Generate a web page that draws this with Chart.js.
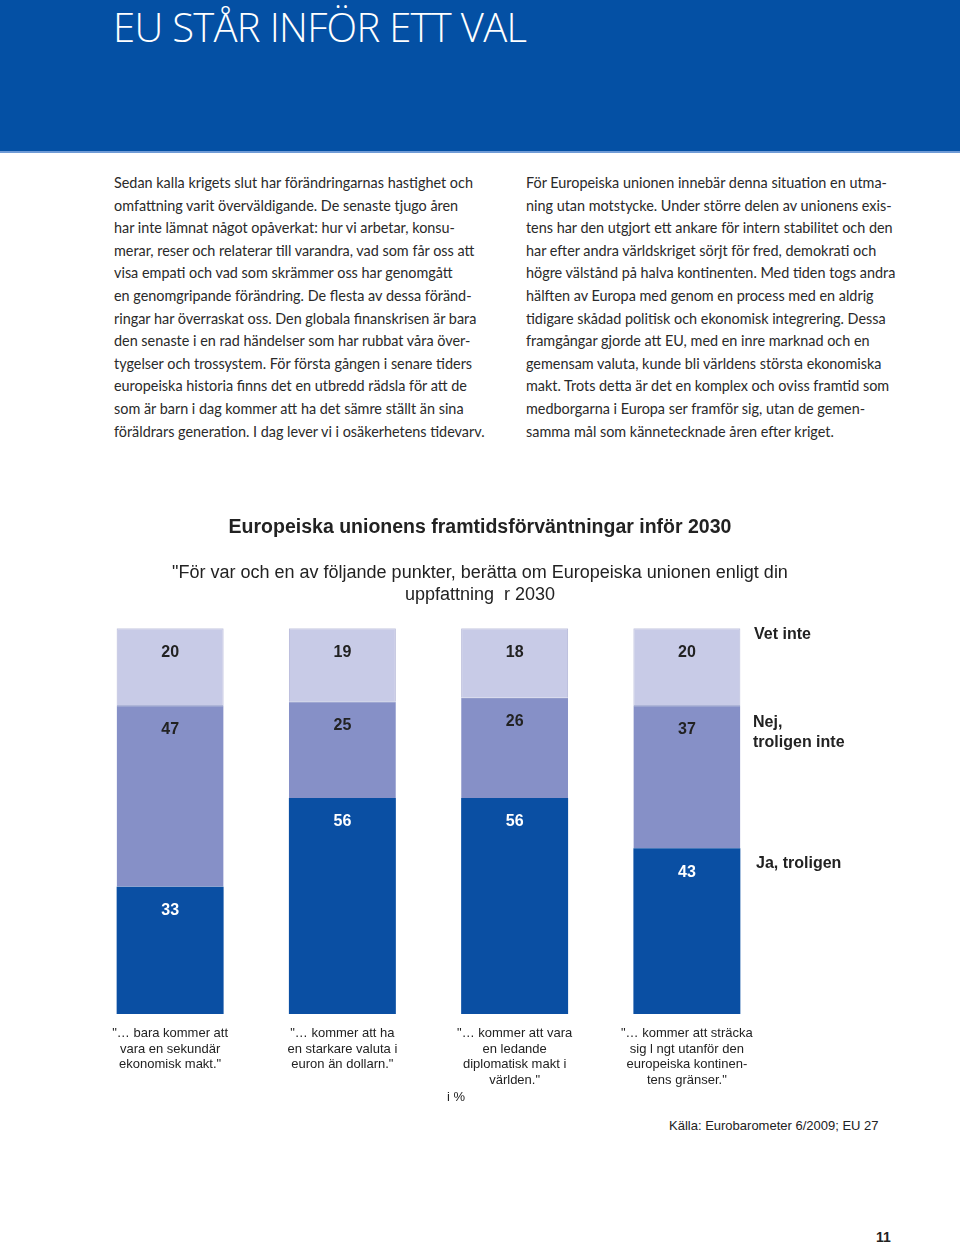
<!DOCTYPE html>
<html lang="sv">
<head>
<meta charset="utf-8">
<script src="https://cdn.jsdelivr.net/npm/chart.js@4"></script>
<style>
  html, body { margin: 0; padding: 0; background: #fff; }
  body { width: 960px; height: 1246px; position: relative; overflow: hidden; }
  .header { position: absolute; left: 0; top: 0; width: 960px; height: 151px; background: #0450a4; border-bottom: 2px solid #6f9bd6; }
  .header h1 { position: absolute; left: 113px; top: -1px; margin: 0; font: 300 40px "Open Sans", sans-serif; color: #fff; letter-spacing: -0.7px; }
  .col { position: absolute; top: 172px; font: 14.4px/22.6px "Lato", sans-serif; color: #2a2a2a; white-space: nowrap; }
  .col.left { left: 114px; }
  .col.right { left: 526px; }
  .chart-wrap { position: absolute; left: 0; top: 505px; width: 960px; height: 595px; }
  .series { position: absolute; font: bold 16px "Liberation Sans", Arial, sans-serif; color: #222; line-height: 20px; }
  .note { position: absolute; font: 13px "Liberation Sans", Arial, sans-serif; color: #222; }
  .page { position: absolute; left: 876px; top: 1229px; font: bold 14px "Liberation Sans", Arial, sans-serif; color: #222; }
</style>
</head>
<body>
<div class="header"><h1>EU STÅR INFÖR ETT VAL</h1></div>

<div class="col left">
Sedan kalla krigets slut har förändringarnas hastighet och<br>
omfattning varit överväldigande. De senaste tjugo åren<br>
har inte lämnat något opåverkat: hur vi arbetar, konsu-<br>
merar, reser och relaterar till varandra, vad som får oss att<br>
visa empati och vad som skrämmer oss har genomgått<br>
en genomgripande förändring. De flesta av dessa föränd-<br>
ringar har överraskat oss. Den globala finanskrisen är bara<br>
den senaste i en rad händelser som har rubbat våra över-<br>
tygelser och trossystem. För första gången i senare tiders<br>
europeiska historia finns det en utbredd rädsla för att de<br>
som är barn i dag kommer att ha det sämre ställt än sina<br>
föräldrars generation. I dag lever vi i osäkerhetens tidevarv.
</div>

<div class="col right">
För Europeiska unionen innebär denna situation en utma-<br>
ning utan motstycke. Under större delen av unionens exis-<br>
tens har den utgjort ett ankare för intern stabilitet och den<br>
har efter andra världskriget sörjt för fred, demokrati och<br>
högre välstånd på halva kontinenten. Med tiden togs andra<br>
hälften av Europa med genom en process med en aldrig<br>
tidigare skådad politisk och ekonomisk integrering. Dessa<br>
framgångar gjorde att EU, med en inre marknad och en<br>
gemensam valuta, kunde bli världens största ekonomiska<br>
makt. Trots detta är det en komplex och oviss framtid som<br>
medborgarna i Europa ser framför sig, utan de gemen-<br>
samma mål som kännetecknade åren efter kriget.
</div>

<div class="chart-wrap"><canvas id="euChart"></canvas></div>

<div class="series" style="left:754px; top:624px;">Vet inte</div>
<div class="series" style="left:753px; top:712px;">Nej,<br>troligen inte</div>
<div class="series" style="left:756px; top:853px;">Ja, troligen</div>

<div class="note" style="left:447px; top:1089px;">i %</div>
<div class="note" style="left:669px; top:1118px;">Källa: Eurobarometer 6/2009; EU 27</div>
<div class="page">11</div>

<script>
// Data
const statements = [
    ['"… bara kommer att', 'vara en sekundär', 'ekonomisk makt."'],
    ['"… kommer att ha', 'en starkare valuta i', 'euron än dollarn."'],
    ['"… kommer att vara', 'en ledande', 'diplomatisk makt i', 'världen."'],
    ['"… kommer att sträcka', 'sig l ngt utanför den', 'europeiska kontinen-', 'tens gränser."']
];
const jaTroligen = [33, 56, 56, 43];
const nejTroligenInte = [47, 25, 26, 37];
const vetInte = [20, 19, 18, 20];

const chartTitle = 'Europeiska unionens framtidsförväntningar inför 2030';
const chartSubtitle = [
    '"För var och en av följande punkter, berätta om Europeiska unionen enligt din',
    'uppfattning  r 2030'
];

const colors = {
    ja: '#0a4fa3',
    nej: '#8690c7',
    vet: '#c8cbe7'
};

// skriver värdet i toppen av varje segment
const valueLabels = {
    id: 'valueLabels',
    afterDatasetsDraw(chart) {
        const ctx = chart.ctx;
        ctx.save();
        ctx.font = 'bold 16px "Liberation Sans", Arial, sans-serif';
        ctx.textAlign = 'center';
        ctx.textBaseline = 'middle';
        chart.data.datasets.forEach((ds, i) => {
            const meta = chart.getDatasetMeta(i);
            meta.data.forEach((bar, j) => {
                ctx.fillStyle = ds.valueColor;
                ctx.fillText(ds.data[j], bar.x, bar.y + 24);
            });
        });
        ctx.restore();
    }
};

// osynliga axlar som bara reserverar plats till vänster/höger
const spacer = (pos, w) => ({
    position: pos,
    display: true,
    ticks: { display: false },
    grid: { display: false, drawTicks: false },
    border: { display: false },
    afterFit(axis) { axis.width = w; }
});

const ctx = document.getElementById('euChart').getContext('2d');
new Chart(ctx, {
    type: 'bar',
    data: {
        labels: statements,
        datasets: [
            {
                label: 'Ja, troligen',
                data: jaTroligen,
                backgroundColor: colors.ja,
                borderWidth: 0,
                valueColor: '#ffffff'
            },
            {
                label: 'Nej, troligen inte',
                data: nejTroligenInte,
                backgroundColor: colors.nej,
                borderColor: '#7480bb',
                borderWidth: { top: 1, left: 0, right: 0, bottom: 0 },
                borderSkipped: false,
                valueColor: '#222222'
            },
            {
                label: 'Vet inte',
                data: vetInte,
                backgroundColor: colors.vet,
                borderColor: '#b5b8d8',
                borderWidth: { top: 1, left: 1, right: 1, bottom: 0 },
                borderSkipped: false,
                valueColor: '#222222'
            }
        ]
    },
    options: {
        responsive: true,
        maintainAspectRatio: false,
        animation: false,
        events: [],
        categoryPercentage: 0.621,
        barPercentage: 1,
        layout: { padding: { top: 10, left: 0, right: 0, bottom: 0 } },
        scales: {
            x: {
                stacked: true,
                grid: { display: false, drawTicks: false },
                border: { display: false },
                ticks: {
                    color: '#222',
                    padding: 12,
                    maxRotation: 0,
                    autoSkip: false,
                    font: { family: '"Liberation Sans", Arial, sans-serif', size: 13, lineHeight: 1.19 }
                }
            },
            y: Object.assign(spacer('left', 84), { stacked: true, min: 0, max: 100 }),
            yRight: spacer('right', 187)
        },
        plugins: {
            legend: { display: false },
            tooltip: { enabled: false },
            title: {
                display: true,
                text: chartTitle,
                color: '#222',
                font: { family: '"Liberation Sans", Arial, sans-serif', size: 19.5, weight: 'bold', lineHeight: 1.24 },
                padding: { top: 1, bottom: 22 }
            },
            subtitle: {
                display: true,
                text: chartSubtitle,
                color: '#222',
                font: { family: '"Liberation Sans", Arial, sans-serif', size: 18, lineHeight: 1.222 },
                padding: { top: 0, bottom: 22 }
            }
        }
    },
    plugins: [valueLabels]
});
</script>
</body>
</html>
